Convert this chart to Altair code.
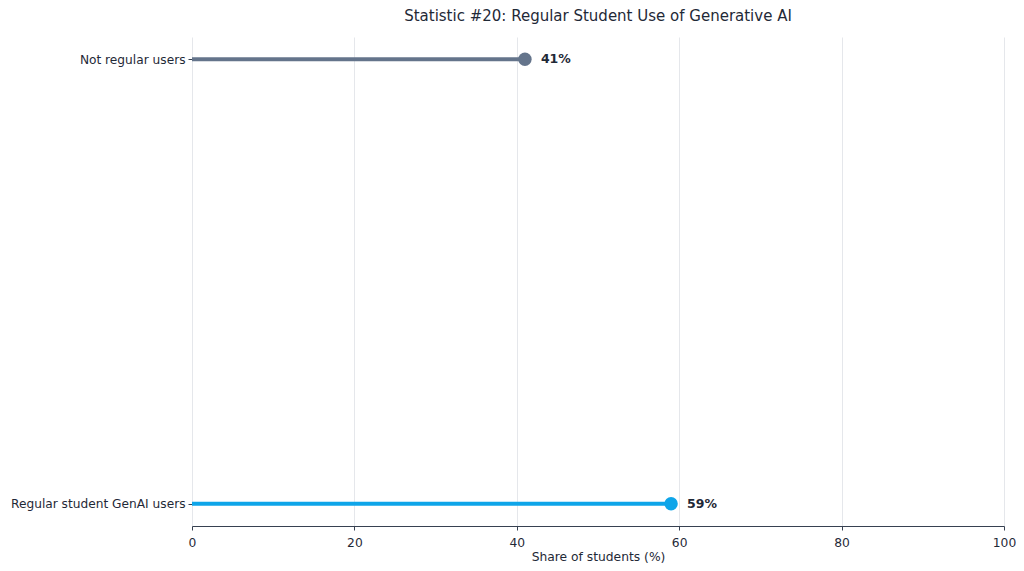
import altair as alt
import pandas as pd

categories = ["Not regular users", "Regular student GenAI users"]
values = [41, 59]
colors = ["#64748b", "#0ea5e9"]
labels = ["41%", "59%"]

df = pd.DataFrame({"cat": categories, "val": values, "color": colors, "label": labels, "zero": [0, 0]})

y = alt.Y("cat:N", sort=categories, title=None,
          scale=alt.Scale(type="point", padding=0.05),
          axis=alt.Axis(domain=False, grid=False, labelFontSize=12.2, labelColor="#1f2937",
                        tickColor="#374151", tickSize=4, labelPadding=3, labelFont="DejaVu Sans",
                        labelLimit=300))
x = alt.X("val:Q", title="Share of students (%)",
          scale=alt.Scale(domain=[0, 100], nice=False),
          axis=alt.Axis(values=[0, 20, 40, 60, 80, 100], grid=True, gridColor="#e5e7eb",
                        domainColor="#374151", tickColor="#374151", tickSize=4,
                        labelFontSize=12.3, labelColor="#1f2937", titleFontSize=12.3,
                        titleColor="#1f2937", titleFontWeight="normal", labelFont="DejaVu Sans",
                        titleFont="DejaVu Sans", labelPadding=6, titlePadding=2,
                        labelFlush=False))

base = alt.Chart(df)
rules = base.mark_rule(strokeWidth=4).encode(
    y=y, x=x, x2="zero:Q", color=alt.Color("color:N", scale=None))
points = base.mark_circle(size=180, opacity=1).encode(
    y=y, x=x, color=alt.Color("color:N", scale=None))
text = base.mark_text(align="left", dx=16, fontSize=12.5, fontWeight="bold",
                      color="#1f2937", font="DejaVu Sans").encode(y=y, x=x, text="label:N")

chart = alt.layer(rules, points, text).properties(
    width=812, height=489,
    title=alt.TitleParams("Statistic #20: Regular Student Use of Generative AI",
                          fontSize=15, font="DejaVu Sans", fontWeight="normal",
                          color="#1f2937", anchor="middle", offset=13),
    autosize=alt.AutoSizeParams(type="none"),
    padding={"left": 184, "top": 29, "right": 12, "bottom": 37},
).configure(background="white").configure_view(stroke=None, strokeWidth=0)

chart.save("out.html", embed_options={"renderer": "svg", "actions": False})
